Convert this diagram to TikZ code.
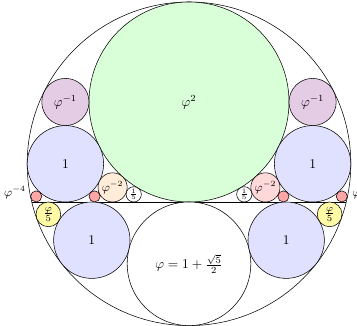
\documentclass[tikz,border=0pt]{standalone}
\usetikzlibrary{positioning}

\begin{document}
\begin{tikzpicture}[disc/.style={draw, circle, inner sep=0pt}]
        \useasboundingbox (-4.948,-3.246) rectangle (4.398,5.288);
        % outer circle and chord
        \node[disc, minimum size=8.472cm] (outer) at (0, 1) {};
        \coordinate (cl) at (-4.1164, 0);
        \coordinate (cr) at (4.1164, 0);
        \draw (cl) -- (cr);
        % the two large circles
        \node[disc, fill=green!15, minimum size=5.236cm] (big) at (0, 2.618) {$\varphi^2$};
        \node[disc, fill=white, minimum size=3.236cm] (half) at (0, -1.618) {$\varphi = 1 + \frac{\sqrt{5}}{2}$};
        % unit circles
        \node[disc, fill=blue!12, minimum size=2cm] (u1) at (-3.236, 1) {$1$};
        \node[disc, fill=blue!12, minimum size=2cm] (u2) at (3.236, 1) {$1$};
        \node[disc, fill=blue!12, minimum size=2cm] (l1) at (-2.544, -1) {$1$};
        \node[disc, fill=blue!12, minimum size=2cm] (l2) at (2.544, -1) {$1$};
        % circles above the unit ones
        \node[disc, fill=violet!20, minimum size=1.236cm] (p1) at (-3.236, 2.618) {$\varphi^{-1}$};
        \node[disc, fill=violet!20, minimum size=1.236cm] (p2) at (3.236, 2.618) {$\varphi^{-1}$};
        % small circles on the chord
        \node[disc, fill=orange!15, minimum size=0.764cm, font=\small] (s1) at (-2, 0.382) {$\varphi^{-2}$};
        \node[disc, fill=red!15, minimum size=0.764cm, font=\small] (s2) at (2, 0.382) {$\varphi^{-2}$};
        \node[disc, fill=white, minimum size=0.4cm, font=\scriptsize] (f1) at (-1.4472, 0.2) {$\frac{1}{5}$};
        \node[disc, fill=white, minimum size=0.4cm, font=\scriptsize] (f2) at (1.4472, 0.2) {$\frac{1}{5}$};
        \node[disc, fill=red!35, minimum size=0.2918cm] (r1) at (-4, 0.1459) {};
        \node[disc, fill=red!35, minimum size=0.2918cm] (r2) at (-2.4721, 0.1459) {};
        \node[disc, fill=red!35, minimum size=0.2918cm] (r3) at (2.4721, 0.1459) {};
        \node[disc, fill=red!35, minimum size=0.2918cm] (r4) at (4, 0.1459) {};
        \node[left=0pt of r1, yshift=3pt, font=\small] {$\varphi^{-4}$};
        \node[right=0pt of r4, yshift=3pt, font=\small] {$\varphi^{-4}$};
        % circles below the chord
        \node[disc, fill=yellow!35, minimum size=0.6472cm] (y1) at (-3.6818, -0.3236) {$\frac{\varphi}{5}$};
        \node[disc, fill=yellow!35, minimum size=0.6472cm] (y2) at (3.6818, -0.3236) {$\frac{\varphi}{5}$};
    \end{tikzpicture}
\end{document}
